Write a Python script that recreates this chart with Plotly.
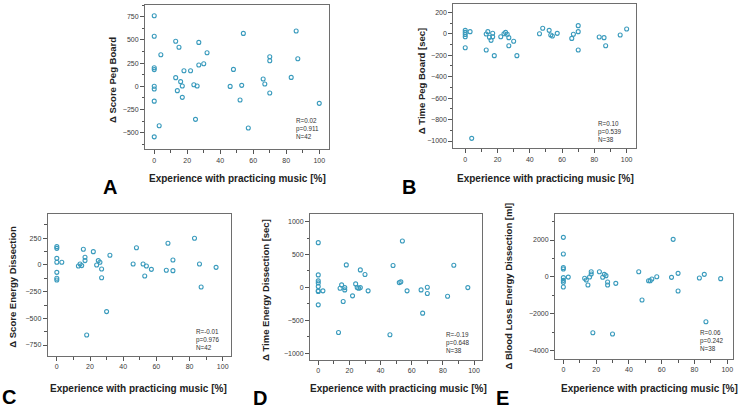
import plotly.graph_objects as go

# ---- data ----
A_x = [0, 0, 4, 0, 0, 0, 0, 0, 3, 0, 13, 15, 13, 14, 16, 17, 18, 17, 22, 24, 26, 25, 27, 27, 30, 32,
       46, 48, 52, 53, 54, 57, 66, 67, 70, 70, 70, 83, 86, 87, 100]
A_y = [760, 540, 340, 200, 180, 0, -30, -160, -425, -545, 485, 420, 93, -47, 50, 3, 168, -119, 168, 17, 3,
       -356, 473, 229, 243, 362, -1, 182, -148, 10, 570, -450, 78, 24, -73, 319, 276, 96, 596, 297, -184]

B_x = [0, 0, 0, 0, 0, 3, 4, 13, 14, 15, 16, 17, 17, 13, 18, 22, 24, 25, 26, 27, 27, 30, 32,
       46, 48, 52, 53, 54, 57, 66, 67, 70, 70, 70, 83, 86, 87, 96, 100]
B_y = [32, 13, -6, -27, -130, 20, -975, -2, 20, -33, -61, 5, -27, -151, -204, -27, 1, 13, -5, -36, -111, -70, -204,
       1, 51, 32, -11, -21, 4, -43, -5, 76, 20, -151, -30, -36, -111, -11, 44]

C_x = [0, 0, 0, 0, 0, 0, 0, 3, 13, 14, 15, 16, 17, 17, 18, 22, 24, 25, 26, 27, 27, 30, 32,
       46, 48, 52, 53, 54, 57, 66, 67, 70, 70, 83, 86, 87, 96]
C_y = [172, 156, 62, 25, -69, -125, -141, 25, -9, 9, -6, 147, 72, 41, -656, 125, 0, 41, 25, -37, -119, -437, 91,
       9, 162, 9, -103, -9, -41, -50, 203, 47, -53, 250, 9, -206, -22]

D_x = [0, 0, 0, 0, 0, 0, 0, 0, 3, 14, 15, 16, 17, 17, 18, 13, 22, 24, 25, 26, 27, 27, 30, 32,
       46, 48, 52, 53, 54, 57, 66, 67, 70, 70, 83, 87, 96]
D_y = [681, 190, 99, 68, 13, -53, -63, -266, -53, -13, 38, -215, -3, -38, 342, -686, -129, 53, -3, -13, -3, 266,
       195, -53, -721, 332, 73, 84, 706, -53, -38, -392, 3, -94, -134, 337, -3]

E_x = [0, 0, 0, 0, 0, 0, 0, 0, 3, 13, 14, 15, 16, 17, 17, 18, 22, 24, 25, 26, 27, 27, 30, 32,
       46, 48, 52, 53, 54, 57, 66, 67, 70, 70, 83, 86, 87, 96]
E_y = [2145, 1241, 500, 428, -40, -187, -295, -548, -11, -70, -170, -440, -5, 157, 283, -3024, 283, -16, 139,
       67, -277, -440, -3096, -349, 283, -1253, -205, -205, -114, 12, -24, 2036, 193, -765, -60, 139, -2427, -96]

panel_letters = ["A", "B", "C", "D", "E"]
y_titles = ["Δ Score Peg Board", "Δ Time Peg Board [sec]", "Δ Score Energy Dissection",
            "Δ Time Energy Dissection [sec]", "Δ Blood Loss Energy Dissection [ml]"]
x_title = "Experience with practicing music [%]"
stats = [["R=0.02", "p=0.911", "N=42"],
         ["R=0.10", "p=0.539", "N=38"],
         ["R=-0.01", "p=0.976", "N=42"],
         ["R=-0.19", "p=0.648", "N=38"],
         ["R=0.06", "p=0.242", "N=38"]]
xs = [A_x, B_x, C_x, D_x, E_x]
ys = [A_y, B_y, C_y, D_y, E_y]

# ---- layout geometry (pixels in a 741x410 canvas) ----
W, H = 741, 410
# frame: left, right, top, bottom
frames = [(145, 329, 5, 149.3),
          (453.3, 636, 4.3, 148.3),
          (47.7, 231, 214.3, 356),
          (310, 481.7, 214.3, 360),
          (555, 733.3, 214.3, 359)]
x_ranges = [[-5.6, 105.9], [-7.4, 105.8], [-5.5, 105.0], [-5.3, 104.9], [-5.1, 103.7]]
y_ranges = [[-679, 876], [-1068, 275], [-853, 475], [-1105, 1112], [-4450, 3393]]
y_dticks = [250, 200, 250, 500, 2000]
# left edge and vertical centre of the stats block (fractions of the plot frame)
stat_pos = [(0.815, 0.141), (0.788, 0.120), (0.805, 0.118), (0.786, 0.117), (0.808, 0.131)]
letter_pos = [(109.5, 187.5), (408.5, 187.5), (8.5, 396.5), (259.5, 398), (502.5, 397.5)]
xtitle_pos = [(237, 179), (545.7, 179), (138, 388), (398, 388), (649, 388)]
ytitle_pos = [(113, 80), (421.7, 81.5), (13, 286.7), (265, 290), (508, 286.5)]

FONT = "Liberation Sans, Arial, sans-serif"
MARK = "#3a9bbd"
FRAME = "#6e6e6e"

fig = go.Figure()
layout = dict(width=W, height=H, margin=dict(l=0, r=0, t=0, b=0),
              paper_bgcolor="white", plot_bgcolor="white", showlegend=False,
              font=dict(family=FONT, color="#333"))
annotations = []

def px(x):
    return x / W

def py(y):
    return 1 - y / H

for i in range(5):
    n = "" if i == 0 else str(i + 1)
    xa, ya = "x" + n, "y" + n
    fig.add_trace(go.Scatter(x=xs[i], y=ys[i], mode="markers", xaxis=xa, yaxis=ya,
                             marker=dict(symbol="circle-open", size=4, color=MARK,
                                         line=dict(width=1.1, color=MARK))))
    l, r, t, b = frames[i]
    common = dict(showline=True, mirror=True, linecolor=FRAME, linewidth=1,
                  showgrid=False, zeroline=False, ticks="outside", ticklen=4, tickwidth=1,
                  tickcolor="#555", tickfont=dict(size=7, color="#3a3a3a", family=FONT))
    layout["xaxis" + n] = dict(domain=[px(l), px(r)], range=x_ranges[i], anchor=ya,
                               tickmode="linear", tick0=0, dtick=20,
                               minor=dict(ticks="outside", ticklen=2.5, dtick=10, tick0=0,
                                          tickcolor="#555", showgrid=False),
                               **common)
    layout["yaxis" + n] = dict(domain=[py(b), py(t)], range=y_ranges[i], anchor=xa,
                               tickmode="linear", tick0=0, dtick=y_dticks[i],
                               minor=dict(ticks="outside", ticklen=2.5, dtick=y_dticks[i] / 2,
                                          tick0=0, tickcolor="#555", showgrid=False),
                               **common)
    # stats text (one block)
    sx, sy = stat_pos[i]
    annotations.append(dict(text="<br>".join(stats[i]), xref=xa + " domain", yref=ya + " domain",
                            x=sx, y=sy, xanchor="left", yanchor="middle", align="left",
                            showarrow=False, borderpad=0,
                            font=dict(size=6.3, color="#333", family=FONT)))
    # panel letters
    lx, ly = letter_pos[i]
    annotations.append(dict(text="<b>" + panel_letters[i] + "</b>", xref="paper", yref="paper",
                            x=px(lx), y=py(ly), xanchor="center", yanchor="middle", showarrow=False,
                            font=dict(size=20, color="black", family=FONT)))
    # x title
    tx, ty = xtitle_pos[i]
    annotations.append(dict(text="<b>" + x_title + "</b>", xref="paper", yref="paper",
                            x=px(tx), y=py(ty), xanchor="center", yanchor="middle", showarrow=False,
                            font=dict(size=10, color="#222", family=FONT)))
    # y title
    yx, yy = ytitle_pos[i]
    annotations.append(dict(text="<b>" + y_titles[i] + "</b>", xref="paper", yref="paper",
                            x=px(yx), y=py(yy), xanchor="center", yanchor="middle", showarrow=False,
                            textangle=-90,
                            font=dict(size=9.5, color="#222", family=FONT)))

layout["annotations"] = annotations
fig.update_layout(**layout)
# remove the browser's default 8px body margin so the figure fills the window exactly
fig.write_html("out.html", config={"displayModeBar": False},
               post_script="document.body.style.margin='0';")
